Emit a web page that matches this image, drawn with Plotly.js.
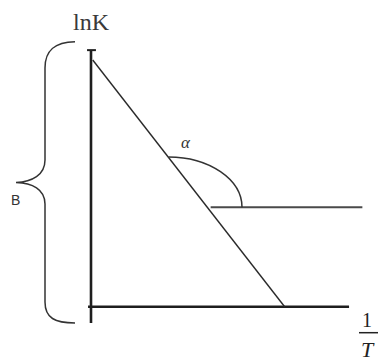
<!DOCTYPE html>
<html>
<head>
<meta charset="utf-8">
<script src="https://cdn.plot.ly/plotly-3.0.1.min.js"></script>
<style>html,body{margin:0;padding:0;background:#fff;}#chart{width:378px;height:363px;}</style>
</head>
<body>
<div id="chart"></div>
<script>
// ---- diagram values (1/T on x, lnK on y) ----
const lineInvT = [0.07, 7.85];      // ln K line: from intercept B to x-axis
const lineLnK = [10, 0];
const levelInvT = [4.85, 11.0];     // horizontal reference line
const levelLnK = [4.03, 4.03];
const yAxisInvT = [0, 0];
const yAxisLnK = [-0.66, 10.4];
const xAxisInvT = [-0.12, 10.46];
const xAxisLnK = [0, 0];
const tickInvT = [-0.16, 0.2];
const tickLnK = [10.4, 10.4];
const labels = ["lnK", "1", "T", "α", "B"];

const k = 24.67;           // px per unit
const ox = 91, oy = 306.7; // pixel position of origin
const X = px => (px - ox) / k;
const Y = py => (oy - py) / k;

function tr(x, y, w, c) {
  return {x: x, y: y, mode: 'lines', type: 'scatter', hoverinfo: 'skip',
          line: {color: c, width: w}, showlegend: false};
}
const data = [
  tr(yAxisInvT, yAxisLnK, 2.6, '#1e1e1e'),
  tr(xAxisInvT, xAxisLnK, 2.6, '#1e1e1e'),
  tr(tickInvT, tickLnK, 2, '#1e1e1e'),
  tr(lineInvT, lineLnK, 1.4, '#2a2a2a'),
  tr(levelInvT, levelLnK, 2, '#4a4a4a')
];

// angle arc (quarter ellipse)
const cx = X(168.5), cy = levelLnK[0], rx = X(242) - X(168.5), ry = 2.04, kap = 0.5523;
const arcPath = `M ${cx} ${cy + ry} C ${cx + kap * rx} ${cy + ry}, ${cx + rx} ${cy + kap * ry}, ${cx + rx} ${cy}`;

// brace (pixel points converted to data)
const P = (a, b) => `${X(a)} ${Y(b)}`;
const bracePath = `M ${P(75, 41.7)} C ${P(55, 42)}, ${P(45, 50)}, ${P(45, 68)} L ${P(45, 160)} ` +
  `C ${P(45, 175)}, ${P(32, 182)}, ${P(16, 182.5)} C ${P(32, 183)}, ${P(45, 189)}, ${P(45, 204)} ` +
  `L ${P(45, 302)} C ${P(45, 318)}, ${P(55, 323)}, ${P(75, 323)}`;

const serif = '"Liberation Serif", "DejaVu Serif", serif';
const layout = {
  width: 378, height: 363,
  margin: {l: 0, r: 0, t: 0, b: 0},
  paper_bgcolor: '#fff', plot_bgcolor: '#fff',
  xaxis: {range: [X(0), X(378)], visible: false, fixedrange: true},
  yaxis: {range: [Y(363), Y(0)], visible: false, fixedrange: true},
  shapes: [
    {type: 'path', path: arcPath, xref: 'x', yref: 'y', line: {color: '#333', width: 1.5}},
    {type: 'path', path: bracePath, xref: 'x', yref: 'y', line: {color: '#333', width: 1.5}},
    {type: 'line', xref: 'x', yref: 'y', x0: X(359), x1: X(378), y0: Y(332.7), y1: Y(332.7),
     line: {color: '#222', width: 1.5}}
  ],
  annotations: [
    {x: X(91), y: Y(22), text: labels[0], showarrow: false, xanchor: 'center', yanchor: 'middle',
     font: {family: serif, size: 24, color: '#3a3a3a'}},
    {x: X(367), y: Y(320), text: labels[1], showarrow: false, xanchor: 'center', yanchor: 'middle',
     font: {family: serif, size: 20, color: '#222'}},
    {x: X(368), y: Y(349), text: '<i>' + labels[2] + '</i>', showarrow: false, xanchor: 'center', yanchor: 'middle',
     font: {family: serif, size: 22, color: '#222'}},
    {x: X(186), y: Y(142), text: '<i>' + labels[3] + '</i>', showarrow: false, xanchor: 'center', yanchor: 'middle',
     font: {family: serif, size: 17, color: '#333'}},
    {x: X(15.5), y: Y(200), text: labels[4], showarrow: false, xanchor: 'center', yanchor: 'middle',
     font: {family: '"Liberation Sans", Arial, sans-serif', size: 14, color: '#333'}}
  ]
};
Plotly.newPlot('chart', data, layout, {staticPlot: true, displayModeBar: false});
</script>
</body>
</html>
